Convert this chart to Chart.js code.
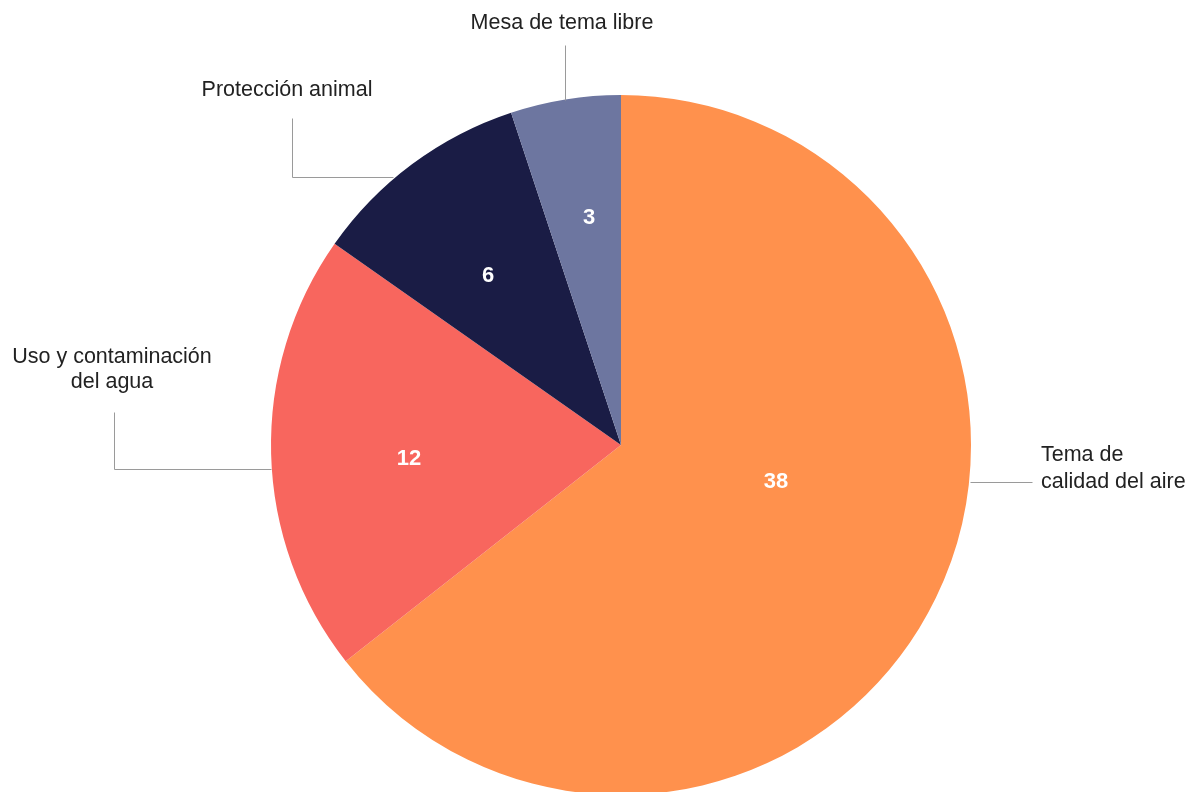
<!DOCTYPE html>
<html>
<head>
<meta charset="utf-8">
<script src="https://cdn.jsdelivr.net/npm/chart.js@4/dist/chart.umd.min.js"></script>
<style>
  html, body { margin: 0; padding: 0; background: #fff; overflow: hidden; }
  #wrap { position: relative; width: 1192px; height: 800px; }
</style>
</head>
<body>
<div id="wrap"><canvas id="mycanvas"></canvas></div>
<script>
var categories = ['Tema de calidad del aire', 'Uso y contaminación del agua', 'Protección animal', 'Mesa de tema libre'];
var values = [38, 12, 6, 3];
var colors = ['#FF914D', '#F8665E', '#1A1C45', '#6D76A0'];

// label text split in lines, as in the picture
var labelLines = [
    ['Tema de', 'calidad del aire'],
    ['Uso y contaminación', 'del agua'],
    ['Protección animal'],
    ['Mesa de tema libre']
];

// placement relative to the pie centre (px)
var valuePos = [[155, 37], [-212, 14], [-133, -169], [-32, -227]];
var callouts = [
    { align: 'left',   tx: 420,  ty: [10, 37],   path: [[349, 37], [411, 37]] },
    { align: 'center', tx: -509, ty: [-88, -63], path: [[-350, 24], [-507, 24], [-507, -33]] },
    { align: 'center', tx: -334, ty: [-355],     path: [[-228, -268], [-329, -268], [-329, -327]] },
    { align: 'center', tx: -59,  ty: [-422],     path: [[-56, -345], [-56, -400]] }
];

var labelPlugin = {
    id: 'labels',
    afterDraw: function(chart) {
        var ctx = chart.ctx;
        var arcs = chart.getDatasetMeta(0).data;
        var cx = arcs[0].x, cy = arcs[0].y;
        ctx.save();
        // values inside slices
        ctx.fillStyle = '#fff';
        ctx.font = 'bold 22px "Liberation Sans", Arial, sans-serif';
        ctx.textAlign = 'center';
        ctx.textBaseline = 'middle';
        for (var i = 0; i < values.length; i++) {
            ctx.fillText(values[i], cx + valuePos[i][0], cy + valuePos[i][1]);
        }
        // leader lines and category labels
        ctx.strokeStyle = '#9a9a9a';
        ctx.lineWidth = 1;
        ctx.fillStyle = '#222';
        ctx.font = '21.5px "Liberation Sans", Arial, sans-serif';
        for (var j = 0; j < callouts.length; j++) {
            var c = callouts[j];
            ctx.beginPath();
            for (var k = 0; k < c.path.length; k++) {
                var px = Math.round(cx + c.path[k][0]) + 0.5, py = Math.round(cy + c.path[k][1]) + 0.5;
                if (k == 0) ctx.moveTo(px, py); else ctx.lineTo(px, py);
            }
            ctx.stroke();
            ctx.textAlign = c.align;
            for (var m = 0; m < labelLines[j].length; m++) {
                ctx.fillText(labelLines[j][m], cx + c.tx, cy + c.ty[m]);
            }
        }
        ctx.restore();
    }
};

var ctx = document.getElementById('mycanvas');
var PieChart = new Chart(ctx, {
    type: 'pie',
    data: {
        labels: categories,
        datasets: [{
            data: values,
            backgroundColor: colors,
            borderWidth: 0
        }]
    },
    options: {
        responsive: true,
        maintainAspectRatio: false,
        animation: false,
        layout: { padding: { top: 95, bottom: 5, left: 50, right: 0 } },
        plugins: {
            legend: { display: false },
            tooltip: { enabled: false }
        }
    },
    plugins: [labelPlugin]
});
</script>
</body>
</html>
